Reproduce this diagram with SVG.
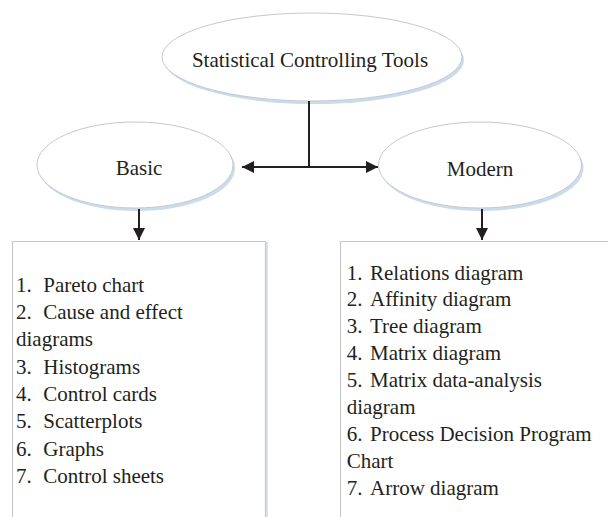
<svg xmlns="http://www.w3.org/2000/svg" width="608" height="517" viewBox="0 0 608 517">
<defs>
<style>
text{font-family:'Liberation Serif','DejaVu Serif',serif;font-size:21px;fill:#231f20}
.sh{fill:#c9dcef;stroke:none}
.el{fill:#ffffff;stroke:#c8c8c8;stroke-width:1}
.box{fill:#ffffff;stroke:#c8c8c8;stroke-width:1.2}
.boxsh{fill:none;stroke:#cfdbe8;stroke-width:1.5}
.ln{stroke:#231f20;stroke-width:2;fill:none}
</style>
<marker id="ah" viewBox="0 0 12 12" refX="12" refY="6" markerWidth="12" markerHeight="12" markerUnits="userSpaceOnUse" orient="auto-start-reverse">
<path d="M0,0 L12,6 L0,12 Z" fill="#231f20"/>
</marker>
</defs>
<rect width="608" height="517" fill="#ffffff"/>

<g id="top">
<ellipse class="sh" cx="314" cy="60" rx="150" ry="44"/>
<ellipse class="el" cx="312" cy="57" rx="150" ry="44"/>
<text x="310" y="67" text-anchor="middle" font-family="Liberation Serif, serif">Statistical Controlling Tools</text>
</g>

<g id="basic">
<ellipse class="sh" cx="137" cy="168" rx="98" ry="43"/>
<ellipse class="el" cx="135" cy="165" rx="98" ry="43"/>
<text x="139" y="175" text-anchor="middle">Basic</text>
</g>

<g id="modern">
<ellipse class="sh" cx="482" cy="168" rx="101.5" ry="43"/>
<ellipse class="el" cx="480" cy="165" rx="101.5" ry="43"/>
<text x="480" y="176" text-anchor="middle">Modern</text>
</g>

<g id="connectors">
<path class="ln" d="M309,101 V167"/>
<path class="ln" d="M242,167 H378" marker-start="url(#ah)" marker-end="url(#ah)"/>
<path class="ln" d="M139,209 V240" marker-end="url(#ah)"/>
<path class="ln" d="M482,209 V240" marker-end="url(#ah)"/>
</g>

<g id="basic-list">
<path class="boxsh" d="M267,242 V520"/>
<path class="box" d="M12.5,520 V241.5 H265.5 V520"/>
<text y="291.7"><tspan x="16">1.</tspan><tspan x="43.3">Pareto chart</tspan></text>
<text y="319"><tspan x="16">2.</tspan><tspan x="43.3">Cause and effect</tspan></text>
<text y="346.3" x="16">diagrams</text>
<text y="373.6"><tspan x="16">3.</tspan><tspan x="43.3">Histograms</tspan></text>
<text y="400.9"><tspan x="16">4.</tspan><tspan x="43.3">Control cards</tspan></text>
<text y="428.2"><tspan x="16">5.</tspan><tspan x="43.3">Scatterplots</tspan></text>
<text y="455.5"><tspan x="16">6.</tspan><tspan x="43.3">Graphs</tspan></text>
<text y="482.8"><tspan x="16">7.</tspan><tspan x="43.3">Control sheets</tspan></text>
</g>

<g id="modern-list">
<path class="box" d="M340.5,520 V241.5 H612"/>
<text y="279.5"><tspan x="346.7">1.</tspan><tspan x="370">Relations diagram</tspan></text>
<text y="306.4"><tspan x="346.7">2.</tspan><tspan x="370">Affinity diagram</tspan></text>
<text y="333.4"><tspan x="346.7">3.</tspan><tspan x="370">Tree diagram</tspan></text>
<text y="360.3"><tspan x="346.7">4.</tspan><tspan x="370">Matrix diagram</tspan></text>
<text y="387.3"><tspan x="346.7">5.</tspan><tspan x="370">Matrix data-analysis</tspan></text>
<text y="414.2" x="346.7">diagram</text>
<text y="441.2"><tspan x="346.7">6.</tspan><tspan x="370">Process Decision Program</tspan></text>
<text y="468.1" x="346.7">Chart</text>
<text y="495"><tspan x="346.7">7.</tspan><tspan x="370">Arrow diagram</tspan></text>
</g>
</svg>
